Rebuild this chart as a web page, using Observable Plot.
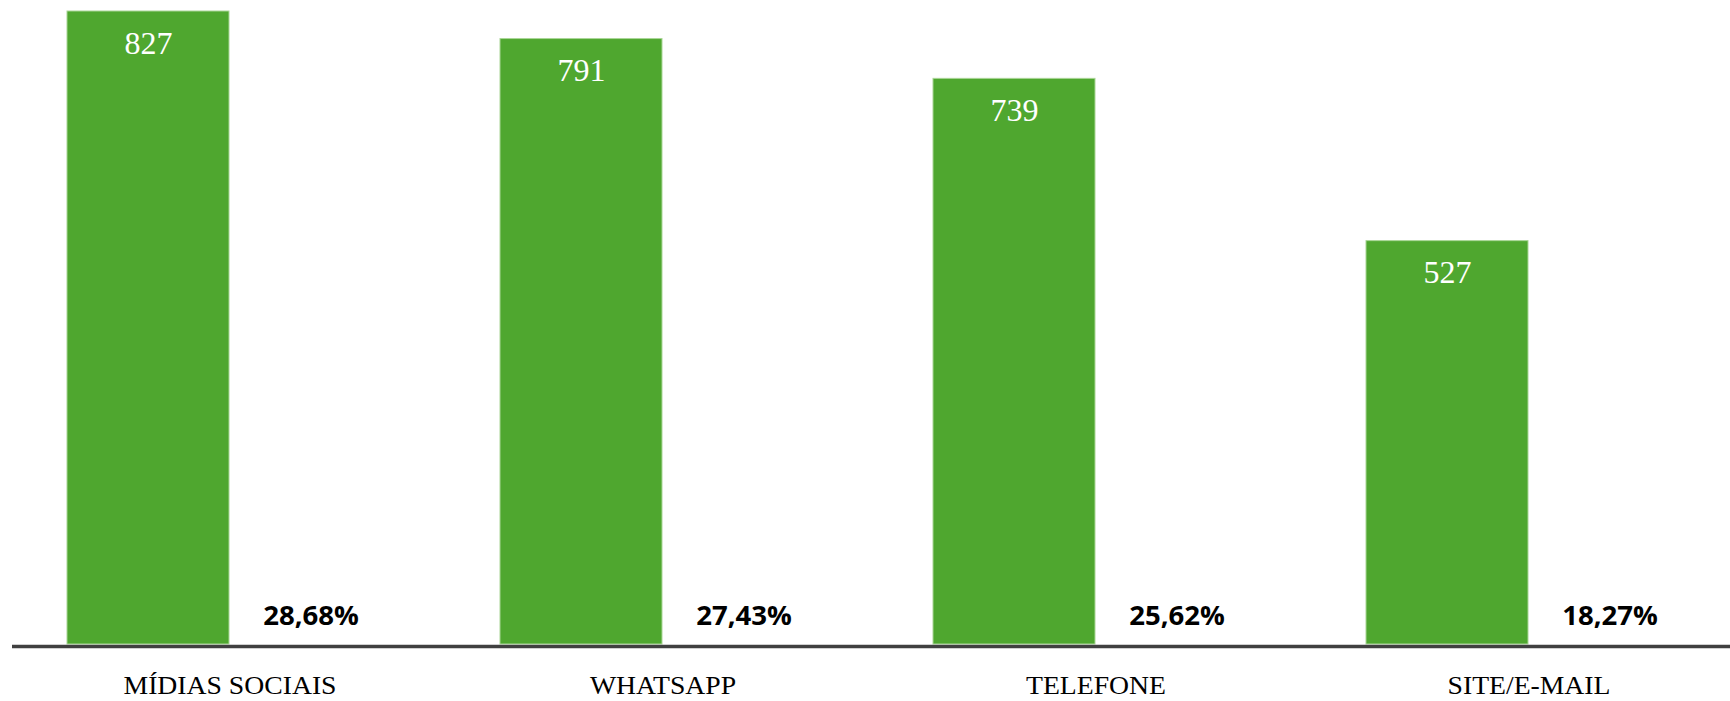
<!DOCTYPE html>
<html>
<head>
<meta charset="utf-8">
<script src="https://cdn.jsdelivr.net/npm/d3@7"></script>
<script src="https://cdn.jsdelivr.net/npm/@observablehq/plot@0.6"></script>
<style>
  html, body { margin: 0; padding: 0; background: #fff; overflow: hidden; }
</style>
</head>
<body>
<div id="chart"></div>
<script>
const categories = ["MÍDIAS SOCIAIS", "WHATSAPP", "TELEFONE", "SITE/E-MAIL"];
const counts = [827, 791, 739, 527];
const percents = [28.68, 27.43, 25.62, 18.27];

const data = categories.map((c, i) => ({category: c, count: counts[i], pct: percents[i]}));
const fmtPct = (v) => v.toFixed(2).replace(".", ",") + "%";

const green = "#4fa72f";

const chart = Plot.plot({
  width: 1730,
  height: 701,
  marginTop: 11,
  marginBottom: 57,
  marginLeft: 12,
  marginRight: 0,
  x: {type: "band", domain: categories, range: [12, 1745], padding: 0, axis: null},
  y: {domain: [0, 827], axis: null},
  marks: [
    Plot.barY(data, {x: "category", y: "count", fill: green, stroke: "#a9d696", strokeWidth: 1, insetLeft: 54, insetRight: 217}),
    Plot.text(data, {
      x: "category", y: "count", text: (d) => String(d.count),
      dx: -81.5, dy: 42, lineAnchor: "bottom",
      fill: "white", fontSize: 32, fontFamily: "Liberation Serif, Times New Roman, serif",
      letterSpacing: -0.5
    }),
    Plot.text(data, {
      x: "category", y: 0, text: (d) => fmtPct(d.pct),
      dx: 81, dy: -20, lineAnchor: "bottom",
      fill: "black", fontSize: 26, fontWeight: "bold", fontFamily: "Open Sans, sans-serif",
      className: "stretch-pct"
    }),
    Plot.ruleY([0], {stroke: "#404040", strokeWidth: 3.5, dy: 2}),
    Plot.text(categories, {
      x: (d) => d, y: 0, text: (d) => d,
      dy: 49, lineAnchor: "bottom",
      fill: "black", fontSize: 26, fontFamily: "Liberation Serif, Times New Roman, serif",
      letterSpacing: -1.2,
      className: "stretch-cat"
    })
  ]
});

document.getElementById("chart").appendChild(chart);

// slight horizontal stretch to match the reference glyph proportions
d3.select(chart).selectAll("g.stretch-cat text").each(function () {
  const t = this.getAttribute("transform") || "";
  this.setAttribute("transform", t + " scale(1.065,1)");
});
d3.select(chart).selectAll("g.stretch-pct text").each(function () {
  const t = this.getAttribute("transform") || "";
  this.setAttribute("transform", t + " scale(1.06,1)");
});
</script>
</body>
</html>
